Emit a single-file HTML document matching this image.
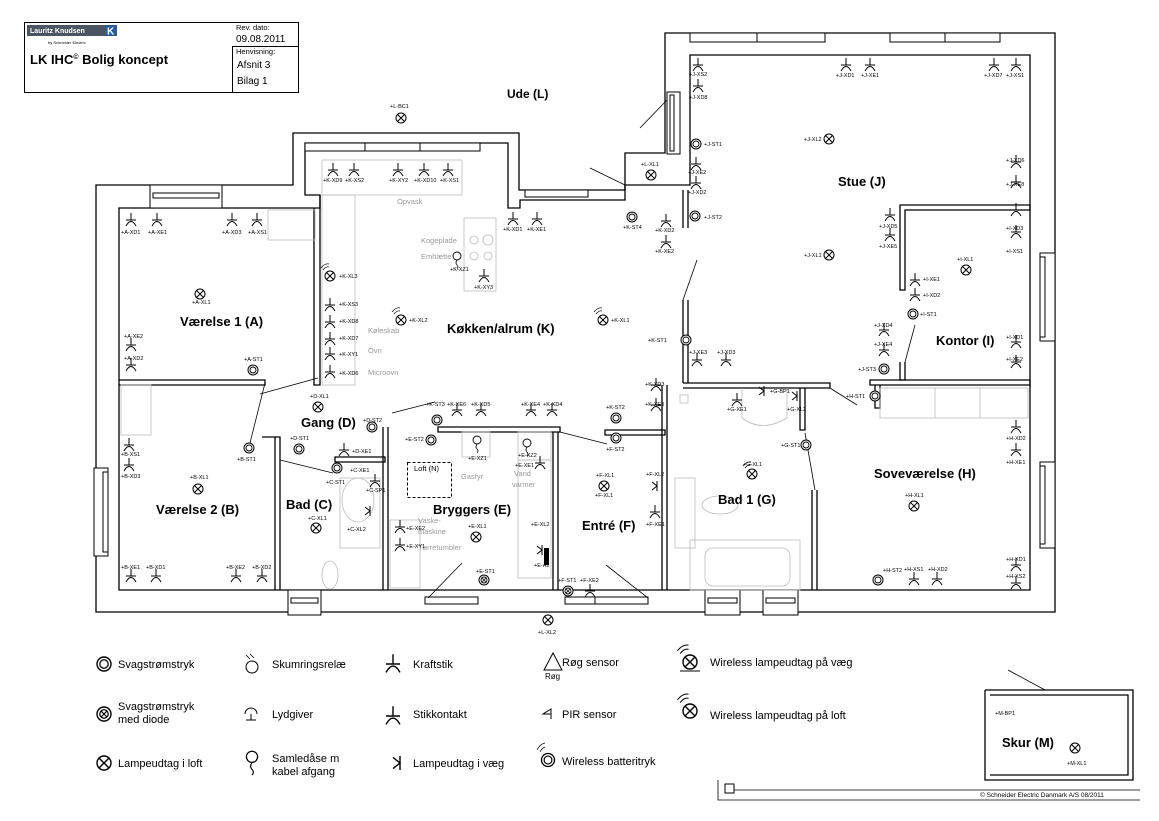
<!DOCTYPE html>
<html><head><meta charset="utf-8"><style>
html,body{margin:0;padding:0;background:#fff}
svg{display:block}
text{font-family:"Liberation Sans",sans-serif;fill:#000}
.d{font-size:5.5px}
.r{font-size:13px;font-weight:bold}
.g{font-size:7.5px;fill:#999}
.l{font-size:11px}
</style></head><body>
<svg width="1159" height="821" viewBox="0 0 1159 821" xmlns="http://www.w3.org/2000/svg">
<defs>
<g id="L"><circle r="5" fill="#fff" stroke="#000" stroke-width="1"/><path d="M-3.5,-3.5L3.5,3.5M-3.5,3.5L3.5,-3.5" stroke="#000" stroke-width="1"/></g>
<g id="S"><circle r="5" fill="#fff" stroke="#000" stroke-width="1"/><circle r="3" fill="none" stroke="#000" stroke-width="0.9"/></g>
<g id="SD"><circle r="5" fill="#fff" stroke="#000" stroke-width="1"/><circle r="3" fill="none" stroke="#000" stroke-width="0.9"/><path d="M-2,-2L2,2M-2,2L2,-2" stroke="#000" stroke-width="0.8"/></g>
<g id="K"><path d="M0,-7V0M-5,0H5M-5,6Q0,-3 5,6" fill="none" stroke="#000" stroke-width="1"/></g>
<g id="W"><path d="M-5,-4L0,0L-5,4M0,-5V5" fill="none" stroke="#000" stroke-width="1"/></g>
<g id="WL"><use href="#L"/><path d="M-7,-6Q-4,-10 -1,-9M-9,-8Q-5,-13 -1,-12" fill="none" stroke="#000" stroke-width="0.7"/></g>
<g id="Z"><circle cy="-3" r="4" fill="#fff" stroke="#000" stroke-width="0.9"/><path d="M0,1q-2,3 0,5q2,2 0,4" fill="none" stroke="#000" stroke-width="0.8"/></g>
</defs>
<rect width="1159" height="821" fill="#fff"/>

<!-- title block -->
<rect x="24.5" y="22.5" width="274" height="70" fill="none" stroke="#000"/>
<line x1="232.5" y1="46" x2="232.5" y2="92" stroke="#000"/>
<line x1="232" y1="46.5" x2="298" y2="46.5" stroke="#000"/>
<rect x="27" y="25" width="90" height="11" fill="#4a5564"/>
<text x="30" y="33" style="font-size:7px;font-weight:bold;fill:#fff">Lauritz Knudsen</text>
<rect x="105" y="25" width="12" height="11" fill="#2a5a9a"/>
<text x="107" y="34.5" style="font-size:10px;font-weight:bold;fill:#fff">K</text>
<text x="48" y="44" style="font-size:4px">by Schneider Electric</text>
<text x="30" y="64" style="font-size:13px;font-weight:bold">LK IHC<tspan dy="-5" style="font-size:7px">©</tspan><tspan dy="5"> Bolig koncept</tspan></text>
<text x="236" y="30" style="font-size:7.5px">Rev. dato:</text>
<text x="236" y="42" style="font-size:10px">09.08.2011</text>
<text x="236" y="54" style="font-size:7.5px">Henvisning:</text>
<text x="237" y="68" style="font-size:10px">Afsnit 3</text>
<text x="237" y="84" style="font-size:10px">Bilag 1</text>

<!-- walls -->
<g fill="none" stroke="#000" stroke-width="1.3">
<path d="M96,185H293V133H519V190H625V153H665V33H1055V612H96Z"/>
<path d="M119,208H320V195H305V143H508V208H520V200H625V185H690V100H690V55H1030V590H119Z"/>
<path d="M320,195V385H314V208"/>
<path d="M119,380H265V385H119"/>
<path d="M262,437H280V590M275,437V590"/>
<path d="M335,457H385V462H335Z"/>
<path d="M383,427V590M388,427V590"/>
<path d="M438,427H560V432H438Z"/>
<path d="M553,432V590M558,432V590"/>
<path d="M605,430H665V435H605Z"/>
<path d="M662,385V590M667,385V590"/>
<path d="M683,383H830V388H683"/>
<path d="M800,388V430H805V388M812,490V590M817,490V590"/>
<path d="M683,300V383M688,300V383M683,190V228M688,190V228"/>
<path d="M900,205H1030V210H905V290H900Z"/>
<path d="M900,362V380H905V362"/>
<path d="M870,380H1030V385H870Z"/>
<path d="M875,385V408H880V385"/>
<path d="M985,690H1133V780H985V690"/>
<path d="M990,695H1128V775H990"/>
</g>
<!-- windows -->
<g fill="#fff" stroke="#000" stroke-width="1">
<rect x="150" y="185" width="72" height="23"/><rect x="153" y="193" width="66" height="5"/>
<rect x="305" y="143" width="175" height="8"/><line x1="365" y1="143" x2="365" y2="151"/><line x1="420" y1="143" x2="420" y2="151"/>
<rect x="525" y="190" width="63" height="7"/>
<rect x="667" y="92" width="13" height="62"/><rect x="670" y="95" width="4" height="56"/>
<rect x="690" y="33" width="135" height="9"/><line x1="757" y1="33" x2="757" y2="42"/>
<rect x="890" y="33" width="110" height="9"/><line x1="945" y1="33" x2="945" y2="42"/>
<rect x="1040" y="253" width="15" height="88"/><rect x="1040" y="257" width="5" height="80"/>
<rect x="1040" y="462" width="15" height="86"/><rect x="1040" y="466" width="5" height="78"/>
<rect x="94" y="468" width="14" height="88"/><rect x="103" y="472" width="5" height="80"/>
<rect x="288" y="590" width="33" height="25"/><rect x="291" y="598" width="27" height="5"/>
<rect x="425" y="597" width="53" height="7"/>
<rect x="565" y="597" width="83" height="7"/><line x1="595" y1="597" x2="595" y2="604"/>
<rect x="705" y="590" width="35" height="25"/><rect x="708" y="598" width="29" height="5"/>
<rect x="763" y="590" width="35" height="25"/><rect x="766" y="598" width="29" height="5"/>
<rect x="725" y="784" width="9" height="9"/>
</g>
<!-- door swings -->
<g stroke="#000" stroke-width="0.8">
<line x1="265" y1="383" x2="250" y2="443"/>
<line x1="260" y1="394" x2="318" y2="378"/>
<line x1="280" y1="460" x2="333" y2="473"/>
<line x1="392" y1="413" x2="435" y2="402"/>
<line x1="560" y1="432" x2="607" y2="444"/>
<line x1="428" y1="598" x2="462" y2="563"/>
<line x1="648" y1="598" x2="606" y2="565"/>
<line x1="625" y1="185" x2="590" y2="168"/>
<line x1="667" y1="100" x2="640" y2="128"/>
<line x1="683" y1="300" x2="697" y2="260"/>
<line x1="830" y1="388" x2="857" y2="405"/>
<line x1="805" y1="433" x2="815" y2="490"/>
<line x1="905" y1="362" x2="915" y2="325"/>
<line x1="1045" y1="690" x2="1008" y2="670"/>
<path d="M718,780V800H1140M734,790H1140" fill="none"/>
</g>
<!-- furniture grey -->
<g fill="none" stroke="#bbb" stroke-width="0.8">
<rect x="322" y="160" width="140" height="35"/><rect x="322" y="195" width="33" height="190"/>
<rect x="464" y="218" width="32" height="73"/><circle cx="474" cy="240" r="4"/><circle cx="488" cy="240" r="5"/><circle cx="474" cy="256" r="4"/><circle cx="488" cy="256" r="4"/>
<rect x="268" y="210" width="47" height="30"/><rect x="121" y="385" width="30" height="50"/>
<rect x="462" y="432" width="28" height="25"/><rect x="518" y="432" width="33" height="28"/>
<rect x="390" y="520" width="30" height="68"/><rect x="518" y="460" width="33" height="118"/>
<ellipse cx="358" cy="500" rx="16" ry="22"/><rect x="340" y="478" width="40" height="70"/>
<rect x="690" y="540" width="110" height="50"/><rect x="705" y="548" width="85" height="38" rx="8"/>
<ellipse cx="720" cy="505" rx="18" ry="9"/><rect x="675" y="478" width="20" height="70"/>
<path d="M742,388v30q20,15 45,0v-30"/><rect x="880" y="388" width="148" height="30"/><line x1="935" y1="388" x2="935" y2="418"/><line x1="980" y1="388" x2="980" y2="418"/>
<ellipse cx="330" cy="575" rx="8" ry="14"/><rect x="680" y="395" width="8" height="8"/>
</g>
<rect x="407.5" y="462.5" width="44" height="35" fill="none" stroke="#000" stroke-dasharray="3,2"/>
<rect x="544" y="548" width="5" height="17" fill="#000"/>

<!-- room labels -->
<text class="r" x="507" y="98" style="font-size:12px">Ude (L)</text>
<text class="r" x="180" y="326">Værelse 1 (A)</text>
<text class="r" x="447" y="333">Køkken/alrum (K)</text>
<text class="r" x="301" y="427">Gang (D)</text>
<text class="r" x="286" y="509">Bad (C)</text>
<text class="r" x="433" y="514">Bryggers (E)</text>
<text class="r" x="582" y="530">Entré (F)</text>
<text class="r" x="718" y="504">Bad 1 (G)</text>
<text class="r" x="838" y="186">Stue (J)</text>
<text class="r" x="936" y="345">Kontor (I)</text>
<text class="r" x="874" y="478">Soveværelse (H)</text>
<text class="r" x="156" y="514">Værelse 2 (B)</text>
<text class="r" x="1002" y="747">Skur (M)</text>
<text x="414" y="471" style="font-size:7.5px">Loft (N)</text>

<g class="g">
<text class="g" x="397" y="204">Opvask</text>
<text class="g" x="421" y="243">Kogeplade</text>
<text class="g" x="421" y="259">Emhætte</text>
<text class="g" x="368" y="333">Køleskab</text>
<text class="g" x="368" y="353">Ovn</text>
<text class="g" x="368" y="375">Microovn</text>
<text class="g" x="461" y="479">Gasfyr</text>
<text class="g" x="514" y="476">Vand</text>
<text class="g" x="512" y="487">varmer</text>
<text class="g" x="418" y="523">Vaske-</text>
<text class="g" x="418" y="534">maskine</text>
<text class="g" x="418" y="550">Tørretumbler</text>
</g>

<!-- devices -->
<g>
<use href="#K" x="131" y="220"/><use href="#K" x="157" y="220"/><use href="#K" x="232" y="220"/><use href="#K" x="257" y="220"/>
<use href="#L" x="200" y="294"/><use href="#K" x="131" y="345"/><use href="#K" x="131" y="365"/><use href="#S" x="253" y="370"/>
<use href="#K" x="129" y="445"/><use href="#K" x="129" y="465"/><use href="#L" x="198" y="489"/><use href="#S" x="249" y="448"/>
<use href="#K" x="131" y="576"/><use href="#K" x="156" y="576"/><use href="#K" x="236" y="576"/><use href="#K" x="262" y="576"/>
<use href="#L" x="318" y="407"/><use href="#S" x="372" y="427"/><use href="#S" x="299" y="449"/><use href="#K" x="344" y="450"/>
<use href="#S" x="337" y="468"/><use href="#K" x="375" y="481"/><use href="#W" x="370" y="511"/><use href="#L" x="316" y="528"/>
<use href="#K" x="333" y="170"/><use href="#K" x="354" y="170"/><use href="#K" x="398" y="170"/><use href="#K" x="424" y="170"/><use href="#K" x="448" y="170"/>
<use href="#K" x="513" y="219"/><use href="#K" x="537" y="219"/><use href="#S" x="632" y="217"/><use href="#K" x="666" y="221"/><use href="#K" x="666" y="242"/>
<use href="#WL" x="330" y="276"/><use href="#K" x="330" y="305"/><use href="#K" x="330" y="322"/><use href="#K" x="330" y="339"/><use href="#K" x="330" y="354"/><use href="#K" x="330" y="372"/>
<use href="#WL" x="401" y="320"/><use href="#WL" x="603" y="320"/><use href="#S" x="686" y="340"/><use href="#K" x="656" y="385"/><use href="#K" x="656" y="405"/>
<use href="#S" x="616" y="418"/><use href="#S" x="437" y="420"/><use href="#K" x="457" y="410"/><use href="#K" x="481" y="410"/><use href="#K" x="531" y="410"/><use href="#K" x="552" y="410"/>
<use href="#Z" x="457" y="259"/><use href="#K" x="484" y="276"/>
<use href="#S" x="431" y="440"/><use href="#Z" x="477" y="443"/><use href="#Z" x="527" y="446"/><use href="#K" x="540" y="463"/>
<use href="#K" x="400" y="527"/><use href="#K" x="400" y="545"/><use href="#L" x="476" y="537"/><use href="#W" x="542" y="550"/><use href="#SD" x="484" y="580"/>
<use href="#S" x="616" y="438"/><use href="#L" x="604" y="486"/><use href="#W" x="657" y="486"/><use href="#K" x="655" y="512"/><use href="#SD" x="568" y="591"/><use href="#K" x="590" y="591"/>
<use href="#L" x="548" y="620"/><use href="#L" x="651" y="175"/><use href="#L" x="401" y="118"/>
<use href="#K" x="698" y="65"/><use href="#K" x="698" y="86"/><use href="#K" x="846" y="65"/><use href="#K" x="870" y="65"/><use href="#K" x="994" y="65"/><use href="#K" x="1016" y="65"/>
<use href="#L" x="829" y="139"/><use href="#S" x="696" y="144"/><use href="#K" x="696" y="164"/><use href="#K" x="696" y="183"/><use href="#S" x="695" y="216"/>
<use href="#K" x="1016" y="162"/><use href="#K" x="1016" y="182"/><use href="#K" x="890" y="215"/><use href="#K" x="890" y="235"/><use href="#L" x="829" y="255"/>
<use href="#K" x="697" y="360"/><use href="#K" x="726" y="360"/><use href="#K" x="884" y="330"/><use href="#K" x="884" y="350"/><use href="#S" x="884" y="369"/>
<use href="#K" x="1016" y="210"/><use href="#K" x="1016" y="232"/><use href="#L" x="966" y="270"/><use href="#K" x="915" y="280"/><use href="#K" x="915" y="295"/><use href="#S" x="913" y="314"/>
<use href="#K" x="1016" y="342"/><use href="#K" x="1016" y="362"/>
<use href="#K" x="737" y="400"/><use href="#W" x="764" y="391"/><use href="#W" x="797" y="396"/><use href="#S" x="806" y="445"/><use href="#WL" x="752" y="474"/>
<use href="#S" x="875" y="396"/><use href="#K" x="1016" y="427"/><use href="#K" x="1016" y="450"/><use href="#L" x="914" y="506"/><use href="#S" x="878" y="580"/>
<use href="#K" x="914" y="579"/><use href="#K" x="937" y="579"/><use href="#K" x="1016" y="565"/><use href="#K" x="1016" y="583"/>
<use href="#L" x="1075" y="748"/>
</g>
<g class="d">
<text class="d" x="121" y="234">+A-XD1</text><text class="d" x="148" y="234">+A-XE1</text><text class="d" x="222" y="234">+A-XD3</text><text class="d" x="248" y="234">+A-XS1</text>
<text class="d" x="192" y="304">+A-XL1</text><text class="d" x="124" y="338">+A-XE2</text><text class="d" x="124" y="360">+A-XD2</text><text class="d" x="244" y="361">+A-ST1</text>
<text class="d" x="121" y="456">+B-XS1</text><text class="d" x="121" y="478">+B-XD3</text><text class="d" x="190" y="479">+B-XL1</text><text class="d" x="237" y="461">+B-ST1</text>
<text class="d" x="121" y="569">+B-XE1</text><text class="d" x="146" y="569">+B-XD1</text><text class="d" x="226" y="569">+B-XE2</text><text class="d" x="252" y="569">+B-XD2</text>
<text class="d" x="310" y="398">+D-XL1</text><text class="d" x="363" y="422">+D-ST2</text><text class="d" x="290" y="440">+D-ST1</text><text class="d" x="352" y="453">+D-XE1</text>
<text class="d" x="326" y="484">+C-ST1</text><text class="d" x="350" y="472">+C-XE1</text><text class="d" x="366" y="492">+C-SP1</text><text class="d" x="347" y="531">+C-XL2</text><text class="d" x="308" y="520">+C-XL1</text>
<text class="d" x="323" y="182">+K-XD9</text><text class="d" x="345" y="182">+K-XS2</text><text class="d" x="389" y="182">+K-XY2</text><text class="d" x="414" y="182">+K-XD10</text><text class="d" x="440" y="182">+K-XS1</text>
<text class="d" x="503" y="231">+K-XD1</text><text class="d" x="527" y="231">+K-XE1</text><text class="d" x="623" y="229">+K-ST4</text><text class="d" x="655" y="232">+K-XD2</text><text class="d" x="655" y="253">+K-XE2</text>
<text class="d" x="450" y="271">+K-XZ1</text><text class="d" x="474" y="289">+K-XY3</text>
<text class="d" x="339" y="278">+K-XL3</text><text class="d" x="339" y="306">+K-XS3</text><text class="d" x="339" y="323">+K-XD8</text><text class="d" x="339" y="340">+K-XD7</text><text class="d" x="339" y="356">+K-XY1</text><text class="d" x="339" y="375">+K-XD6</text>
<text class="d" x="409" y="322">+K-XL2</text><text class="d" x="611" y="322">+K-XL1</text><text class="d" x="648" y="342">+K-ST1</text><text class="d" x="645" y="386">+K-XD3</text><text class="d" x="645" y="406">+K-XE3</text>
<text class="d" x="606" y="409">+K-ST2</text><text class="d" x="426" y="406">+K-ST3</text><text class="d" x="447" y="406">+K-XE6</text><text class="d" x="471" y="406">+K-XD5</text><text class="d" x="521" y="406">+K-XE4</text><text class="d" x="543" y="406">+K-XD4</text>
<text class="d" x="405" y="441">+E-ST2</text><text class="d" x="468" y="460">+E-XZ1</text><text class="d" x="518" y="457">+E-XZ2</text><text class="d" x="515" y="467">+E-XE1</text>
<text class="d" x="406" y="530">+E-XE2</text><text class="d" x="406" y="548">+E-XY1</text><text class="d" x="468" y="528">+E-XL1</text><text class="d" x="531" y="526">+E-XL2</text><text class="d" x="534" y="567">+E-A1</text><text class="d" x="476" y="573">+E-ST1</text>
<text class="d" x="606" y="451">+F-ST2</text><text class="d" x="596" y="477">+F-XL1</text><text class="d" x="595" y="497">+F-XL1</text><text class="d" x="646" y="476">+F-XL2</text><text class="d" x="646" y="526">+F-XE1</text><text class="d" x="558" y="582">+F-ST1</text><text class="d" x="580" y="582">+F-XE2</text>
<text class="d" x="538" y="634">+L-XL2</text><text class="d" x="641" y="166">+L-XL1</text><text class="d" x="390" y="108">+L-BC1</text>
<text class="d" x="689" y="76">+J-XS2</text><text class="d" x="689" y="99">+J-XD8</text><text class="d" x="836" y="77">+J-XD1</text><text class="d" x="861" y="77">+J-XE1</text><text class="d" x="984" y="77">+J-XD7</text><text class="d" x="1006" y="77">+J-XS1</text>
<text class="d" x="804" y="141">+J-XL2</text><text class="d" x="704" y="146">+J-ST1</text><text class="d" x="688" y="174">+J-XE2</text><text class="d" x="688" y="194">+J-XD2</text><text class="d" x="704" y="219">+J-ST2</text>
<text class="d" x="1006" y="162">+J-XD6</text><text class="d" x="1006" y="186">+J-XE8</text><text class="d" x="879" y="228">+J-XD5</text><text class="d" x="879" y="248">+J-XE5</text><text class="d" x="804" y="257">+J-XL1</text>
<text class="d" x="689" y="354">+J-XE3</text><text class="d" x="717" y="354">+J-XD3</text><text class="d" x="874" y="327">+J-XD4</text><text class="d" x="874" y="346">+J-XE4</text><text class="d" x="858" y="371">+J-ST3</text>
<text class="d" x="1006" y="230">+I-XD3</text><text class="d" x="1006" y="253">+I-XS1</text><text class="d" x="957" y="261">+I-XL1</text><text class="d" x="923" y="281">+I-XE1</text><text class="d" x="923" y="297">+I-XD2</text><text class="d" x="920" y="316">+I-ST1</text>
<text class="d" x="1006" y="339">+I-XD1</text><text class="d" x="1006" y="361">+I-XE2</text>
<text class="d" x="727" y="411">+G-XE1</text><text class="d" x="770" y="393">+G-BP1</text><text class="d" x="787" y="411">+G-XL2</text><text class="d" x="781" y="447">+G-ST1</text><text class="d" x="743" y="466">+G-XL1</text>
<text class="d" x="846" y="398">+H-ST1</text><text class="d" x="1006" y="440">+H-XD2</text><text class="d" x="1006" y="464">+H-XE1</text><text class="d" x="905" y="497">+H-XL1</text><text class="d" x="883" y="572">+H-ST2</text>
<text class="d" x="904" y="571">+H-XS1</text><text class="d" x="928" y="571">+H-XD2</text><text class="d" x="1006" y="561">+H-XD1</text><text class="d" x="1006" y="578">+H-XS2</text>
<text class="d" x="995" y="715">+M-BP1</text><text class="d" x="1067" y="765">+M-XL1</text>
<text class="d" x="980" y="797" style="font-size:6.5px">© Schneider Electric Danmark A/S 08/2011</text>
</g>

<!-- legend -->
<use href="#S" transform="translate(104,664) scale(1.4)"/><text class="l" x="118" y="668">Svagstrømstryk</text>
<use href="#SD" transform="translate(104,714) scale(1.4)"/><text class="l" x="118" y="710">Svagstrømstryk</text><text class="l" x="118" y="723">med diode</text>
<use href="#L" transform="translate(104,763) scale(1.4)"/><text class="l" x="118" y="767">Lampeudtag i loft</text>
<circle cx="252" cy="667" r="6" fill="none" stroke="#000"/><path d="M246,655l4,4M250,654l4,4" stroke="#000" stroke-width="0.8"/><text class="l" x="272" y="668">Skumringsrelæ</text>
<path d="M245,714a6,6 0 0 1 12,0M251,714v6h-5M251,720h5" fill="none" stroke="#000"/><text class="l" x="272" y="718">Lydgiver</text>
<use href="#Z" transform="translate(252,761) scale(1.4)"/><text class="l" x="272" y="762">Samledåse m</text><text class="l" x="272" y="775">kabel afgang</text>
<use href="#K" transform="translate(393,664) scale(1.4)"/><text class="l" x="413" y="668">Kraftstik</text>
<use href="#K" transform="translate(393,716) scale(1.4)"/><text class="l" x="413" y="718">Stikkontakt</text>
<use href="#W" transform="translate(400,763) scale(1.4)"/><text class="l" x="413" y="767">Lampeudtag i væg</text>
<path d="M544,670l9,-17l9,17z" fill="none" stroke="#000"/><text x="545" y="679" style="font-size:8px">Røg</text><text class="l" x="562" y="666">Røg sensor</text>
<path d="M551,714l-8,0 8,-5v10z" fill="none" stroke="#000"/><text class="l" x="562" y="718">PIR sensor</text>
<use href="#S" transform="translate(548,760) scale(1.3)"/><path d="M540,752q2,-4 5,-5M537,750q3,-6 8,-7" fill="none" stroke="#000" stroke-width="0.7"/><text class="l" x="562" y="765">Wireless batteritryk</text>
<use href="#WL" transform="translate(690,662) scale(1.4)"/><line x1="680" y1="671" x2="700" y2="671" stroke="#000"/><text class="l" x="710" y="666">Wireless lampeudtag på væg</text>
<use href="#WL" transform="translate(690,711) scale(1.4)"/><text class="l" x="710" y="719">Wireless lampeudtag på loft</text>
</svg>
</body></html>
